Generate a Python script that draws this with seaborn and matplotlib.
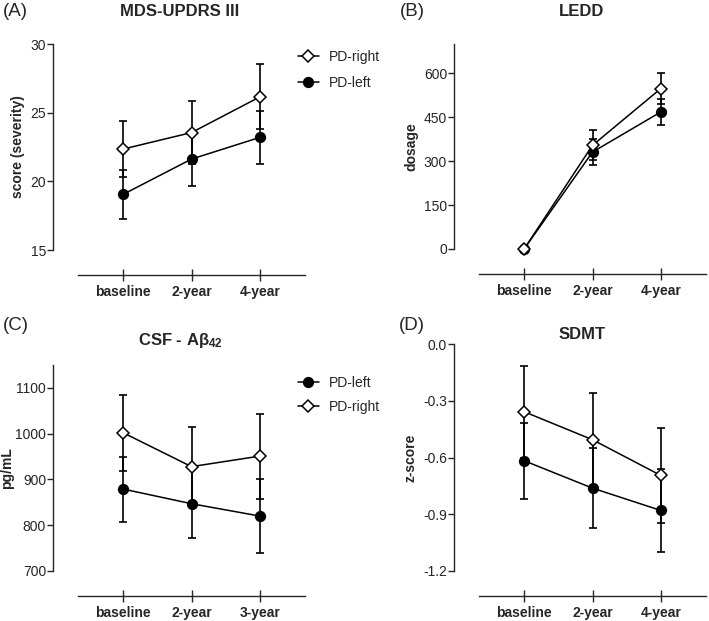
import numpy as np
import pandas as pd
import seaborn as sns
import matplotlib.pyplot as plt

# values (mean and SE per group)
times_4y = ["baseline", "2-year", "4-year"]
times_3y = ["baseline", "2-year", "3-year"]

updrs_right = [22.35, 23.55, 26.15]
updrs_right_se = [2.05, 2.27, 2.36]
updrs_left = [19.05, 21.62, 23.2]
updrs_left_se = [1.8, 1.94, 1.95]

ledd_right = [0, 354, 548]
ledd_right_se = [0, 51, 53]
ledd_left = [0, 331, 468]
ledd_left_se = [0, 43, 45]

csf_right = [1002, 928, 951]
csf_right_se = [83, 86, 93]
csf_left = [879, 847, 820]
csf_left_se = [71, 75, 80]

sdmt_right = [-0.358, -0.506, -0.695]
sdmt_right_se = [0.242, 0.248, 0.25]
sdmt_left = [-0.617, -0.762, -0.88]
sdmt_left_se = [0.20, 0.21, 0.22]

sns.set_style("ticks")
plt.rcParams["font.family"] = ["Liberation Sans", "DejaVu Sans"]
plt.rcParams["mathtext.fontset"] = "custom"
plt.rcParams["mathtext.rm"] = "Liberation Sans"
plt.rcParams["mathtext.bf"] = "Liberation Sans:bold"

W, H = 709, 621
fig = plt.figure(figsize=(W / 100, H / 100), dpi=100)


def px_axes(x0, y_top, x1, y_bot):
    return fig.add_axes([x0 / W, (H - y_bot) / H, (x1 - x0) / W, (y_bot - y_top) / H])


def panel(ax, times, right, right_se, left, left_se, ylim, yticks, ylabel, lpad=4):
    for vals, se, marker, face, name in [
        (left, left_se, "o", "black", "PD-left"),
        (right, right_se, "D", "white", "PD-right"),
    ]:
        df = pd.DataFrame({"time": times, "value": vals})
        eb = ax.errorbar(times, vals, yerr=se, fmt="none", ecolor="black",
                         elinewidth=1.2, capsize=3, capthick=1.2, zorder=2)
        for art in eb.lines[1] + eb.lines[2]:
            art.set_clip_on(False)
        sns.lineplot(data=df, x="time", y="value", ax=ax, color="black",
                     linewidth=1.1, marker=marker, markersize=6.5 if marker == "D" else 7,
                     markerfacecolor=face, markeredgecolor="black",
                     markeredgewidth=1.1, label=name, zorder=3, sort=False,
                     clip_on=False)
    ax.set_xlim(-0.66, 2.66)
    ax.set_ylim(*ylim)
    ax.set_yticks(yticks)
    ax.set_xlabel("")
    ax.set_ylabel(ylabel, fontsize=10, fontweight="bold", labelpad=lpad)
    sns.despine(ax=ax)
    ax.spines["left"].set_position(("outward", 18))
    ax.spines["bottom"].set_position(("outward", 18))
    for s in ["left", "bottom"]:
        ax.spines[s].set_linewidth(1.0)
    ax.tick_params(axis="y", direction="out", length=4, width=1.0, labelsize=10, pad=1)
    ax.tick_params(axis="x", direction="inout", length=8, width=1.0, labelsize=10, pad=3)
    for lab in ax.get_xticklabels():
        lab.set_fontweight("bold")
    ax.get_legend().remove()


axA = px_axes(78, 44, 305, 250)
panel(axA, times_4y, updrs_right, updrs_right_se, updrs_left, updrs_left_se,
      (15, 30), [15, 20, 25, 30], "score (severity)")
axB = px_axes(479, 44, 706, 249)
panel(axB, times_4y, ledd_right, ledd_right_se, ledd_left, ledd_left_se,
      (0, 700), [0, 150, 300, 450, 600], "dosage")
axC = px_axes(78, 365, 305, 571)
panel(axC, times_3y, csf_right, csf_right_se, csf_left, csf_left_se,
      (700, 1150), [700, 800, 900, 1000, 1100], "pg/mL", lpad=1)
axD = px_axes(479, 344, 706, 571)
panel(axD, times_4y, sdmt_right, sdmt_right_se, sdmt_left, sdmt_left_se,
      (-1.2, 0.0), [-1.2, -0.9, -0.6, -0.3, 0.0], "z-score")
axD.set_yticklabels(["-1.2", "-0.9", "-0.6", "-0.3", "0.0"])

# legends
for ax, order, y, sp in [(axA, ["PD-right", "PD-left"], 59, 0.85),
                         (axC, ["PD-left", "PD-right"], 385, 0.7)]:
    handles, labels = ax.get_legend_handles_labels()
    hmap = dict(zip(labels, handles))
    ax.legend([hmap[o] for o in order], order, loc="upper left",
              bbox_to_anchor=(298 / W, (H - y + 9) / H), bbox_transform=fig.transFigure,
              frameon=False, fontsize=10, handlelength=1.5, handletextpad=0.7,
              labelspacing=sp, borderaxespad=0, borderpad=0)

# titles and panel letters
fig.text(180 / W, 1 - 12 / H, "MDS-UPDRS III", ha="center", va="center",
         fontsize=12, fontweight="bold")
fig.text(582 / W, 1 - 12 / H, "LEDD", ha="center", va="center",
         fontsize=12, fontweight="bold")
fig.text(180 / W, 1 - 340 / H, "CSF - A$\\mathbf{β_{42}}$", ha="center", va="center",
         fontsize=12, fontweight="bold")
fig.text(582 / W, 1 - 335 / H, "SDMT", ha="center", va="center",
         fontsize=12, fontweight="bold")
for x, y, t in [(3, 11, "(A)"), (412, 11, "(B)"), (3, 326, "(C)"), (412, 326, "(D)")]:
    fig.text(x / W, 1 - y / H, t, ha="left" if x < 10 else "center", va="center", fontsize=13.5)

fig.savefig("out.png", dpi=100)
